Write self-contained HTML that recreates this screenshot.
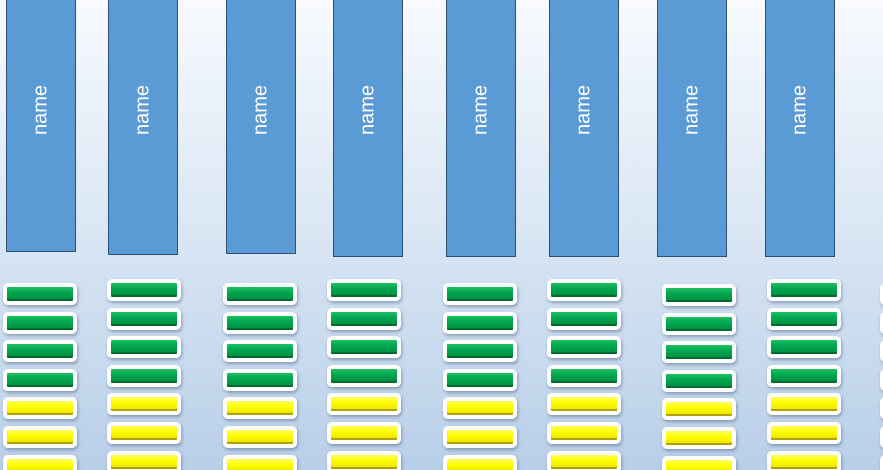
<!DOCTYPE html>
<html style="margin:0;width:883px;height:470px;overflow:hidden;background:#b8cfe8"><head><style>
body{margin:0;width:883px;height:470px;overflow:hidden;background:linear-gradient(#f8fafe,#dce8f5 45%,#b8cfe8);position:relative;font-family:"Liberation Sans",sans-serif}
#c{position:absolute;left:0;top:0;width:883px;height:470px;overflow:hidden}
.r{position:absolute;top:-1px;width:70px;box-sizing:border-box;background:#5b9bd5;border:1px solid #2e4e72}
.r span{position:absolute;left:50%;top:110px;transform:translate(-50%,-50%) rotate(-90deg);color:#fff;font-size:20px;white-space:nowrap}
.p{position:absolute;width:66px;height:14px;border:4px solid #fff;border-radius:5px}
.g{background:linear-gradient(#1fc060,#00a650 40%,#008a40);box-shadow:inset 0 -2px 0 #006a30,1px 2px 3px rgba(60,80,110,.45)}
.y{background:linear-gradient(#ffff60,#ffff00 40%,#e8e000);box-shadow:inset 0 -2px 0 #b0a000,1px 2px 3px rgba(60,80,110,.45)}
</style></head><body>
<div id="c"></div>
<script>
var R=[[6,253],[108,256],[226,255],[333,258],[446,258],[549,258],[657,258],[765,258]];
var P=[[3,283],[107,279],[223,283],[327,279],[443,283],[547,279],[662,284],[767,279],[880,283]];
var h='';
R.forEach(function(r){h+='<div class="r" style="left:'+r[0]+'px;height:'+r[1]+'px"><span>name</span></div>';});
P.forEach(function(p){for(var i=0;i<7;i++){h+='<div class="p '+(i<4?'g':'y')+'" style="left:'+p[0]+'px;top:'+(p[1]+i*28.6)+'px"></div>';}});
document.getElementById('c').innerHTML=h;
</script>
</body></html>
